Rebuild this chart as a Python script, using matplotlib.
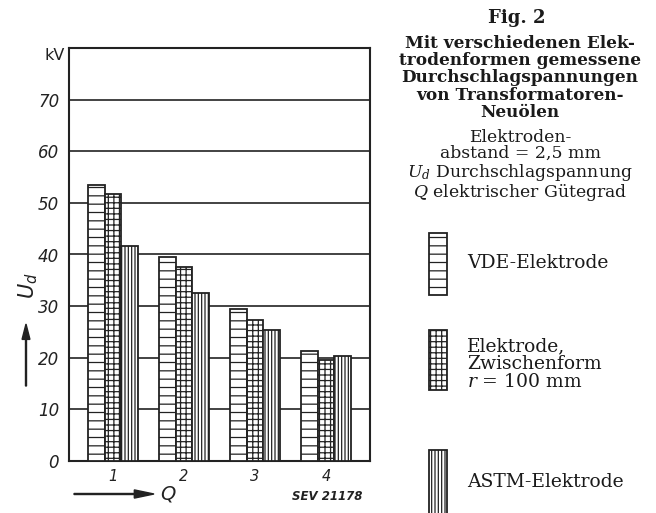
import matplotlib
matplotlib.use("Agg")
import matplotlib.pyplot as plt
from matplotlib.patches import Rectangle, FancyArrow
import numpy as np

categories = ["1", "2", "3", "4"]
vde = [53.4, 39.6, 29.4, 21.4]
zwischen = [51.7, 37.6, 27.4, 19.6]
astm = [41.7, 32.6, 25.4, 20.3]
series_names = ["VDE-Elektrode", "Elektrode,\nZwischenform\n$r$ = 100 mm", "ASTM-Elektrode"]
yticks = [0, 10, 20, 30, 40, 50, 60, 70]

plt.rcParams['hatch.linewidth'] = 0.9
fig = plt.figure(figsize=(6.56, 5.13), dpi=100)
W, H = 656, 513
ax = fig.add_axes([69 / W, 1 - 461 / H, (370 - 69) / W, (461 - 48) / H])

x = np.arange(1, len(categories) + 1)
w = 0.235
hatches = ['--', '+++', '|||||']
for i, (vals, h) in enumerate(zip([vde, zwischen, astm], hatches)):
    ax.bar(x + (i - 1) * w, vals, width=w, facecolor='white', edgecolor='#222222',
           hatch=h, linewidth=1.3, zorder=3)

ax.set_xlim(0.38, 4.62)
ax.set_ylim(0, 80)
ax.set_yticks(yticks)
ax.set_yticklabels([str(t) for t in yticks], fontsize=12, style='italic', color='#222222')
ax.set_xticks(x)
ax.set_xticklabels(categories, fontsize=10.5, style='italic', color='#222222')
ax.tick_params(length=0, pad=7)
ax.tick_params(axis='x', pad=6)
for y in yticks[1:]:
    ax.axhline(y, color='#222222', lw=1.2, zorder=1)
for s in ax.spines.values():
    s.set_linewidth(1.5)
    s.set_color('#222222')

fig.text(45 / W, 1 - 56 / H, "kV", fontsize=11.5, ha='left', va='center', color='#222222')
fig.text(28 / W, 1 - 286 / H, "$U_d$", fontsize=15, rotation=90, ha='center', va='center', color='#222222')
fig.add_artist(FancyArrow(26 / W, 1 - 386 / H, 0, 62 / H, width=0.0015, head_width=0.012,
                          head_length=0.03, color='#222222', transform=fig.transFigure,
                          length_includes_head=True))
fig.add_artist(FancyArrow(74 / W, 1 - 494 / H, 80 / W, 0, width=0.002, head_width=0.016,
                          head_length=0.03, color='#222222', transform=fig.transFigure,
                          length_includes_head=True))
fig.text(160 / W, 1 - 494 / H, "Q", fontsize=14, style='italic', ha='left', va='center', color='#222222')
fig.text(292 / W, 1 - 496 / H, "SEV 21178", fontsize=8.5, style='italic', weight='bold',
         ha='left', va='center', color='#222222')

serif = 'DejaVu Serif'
cx = 520 / W
fig.text(517 / W, 1 - 18 / H, "Fig. 2", fontsize=13, weight='bold', family=serif, ha='center', va='center',
         color='#1a1a1a')
title = "Mit verschiedenen Elek-\ntrodenformen gemessene\nDurchschlagspannungen\nvon Transformatoren-\nNeuölen"
fig.text(cx, 1 - 78 / H, title, fontsize=12.2, weight='bold', family=serif, ha='center', va='center',
         linespacing=1.03, color='#1a1a1a')
sub = "Elektroden-\nabstand = 2,5 mm\n$U_d$ Durchschlagspannung\n$Q$ elektrischer Gütegrad"
fig.text(cx, 1 - 166 / H, sub, fontsize=12.4, family=serif, ha='center', va='center',
         linespacing=0.97, math_fontfamily='dejavuserif', color='#1a1a1a')

# legend
patch_y = [(233, 295), (330, 390), (450, 520)]
text_y = [263, 364, 482]
for (y0, y1), h, name, ty in zip(patch_y, hatches, series_names, text_y):
    fig.add_artist(Rectangle((429 / W, 1 - y1 / H), 18 / W, (y1 - y0) / H, facecolor='white',
                             edgecolor='#222222', hatch=h, linewidth=1.3, transform=fig.transFigure))
    fig.text(467 / W, 1 - ty / H, name, fontsize=13.5, family=serif, ha='left', va='center',
             linespacing=0.98, math_fontfamily='dejavuserif', color='#1a1a1a')

fig.savefig("out.png", dpi=100, facecolor='white')
